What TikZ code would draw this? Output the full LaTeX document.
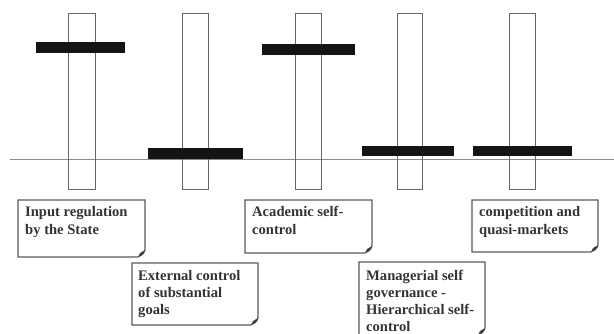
\documentclass[tikz,border=0pt]{standalone}
\usepackage{fontspec}
\setmainfont{Liberation Serif}
\begin{document}
\begin{tikzpicture}[x=1pt,y=-1pt,
  pillar/.style={draw=black!60, line width=1pt},
  bar/.style={fill=black!92},
  axisline/.style={draw=black!45, line width=0.9pt},
  notebox/.style={draw=black!65, line width=1.1pt, line join=miter},
  noteear/.style={fill=black!75},
  notetext/.style={anchor=base west, inner sep=0pt, align=left, text=black!80,
    font=\fontsize{14.6}{17.5}\selectfont\bfseries}]
\useasboundingbox (0,0) rectangle (614,334);
\begin{scope}
\clip (0,0) rectangle (614,334);
% axis line
\coordinate (axL) at (10,159);
\coordinate (axR) at (614,159);
\draw[axisline] (axL) -- (axR);
% pillars
\draw[pillar] (68,14) rectangle (95,190);
\draw[pillar] (182,14) rectangle (208,190);
\draw[pillar] (295,14) rectangle (321,190);
\draw[pillar] (397,14) rectangle (422,190);
\draw[pillar] (509,14) rectangle (535,190);
% bars
\fill[bar] (36,42) rectangle (125,53);
\fill[bar] (148,148) rectangle (243,159);
\fill[bar] (262,44) rectangle (355,55);
\fill[bar] (362,146) rectangle (454,156);
\fill[bar] (473,146) rectangle (572,156);
% note boxes
\newcommand\mynote[4]{%
  \draw[notebox] (#1,#2) -- (#3,#2) -- (#3,#4-7) .. controls (#3-1,#4-3) and (#3-4,#4-1) .. (#3-7,#4) -- (#1,#4) -- cycle;
  \fill[noteear] (#3,#4-7) .. controls (#3-1,#4-3) and (#3-4,#4-1) .. (#3-7,#4) -- (#3-5,#4-4) -- cycle;
}
\mynote{18}{200}{145}{257}
\mynote{132}{263}{258}{325}
\mynote{245}{200}{372}{253}
\mynote{359}{262}{485}{335}
\mynote{472}{200}{598}{252}
% text nodes: base anchor is the last line's baseline
\node[notetext] (t1) at (25,234.5) {Input regulation\\by the State};
\node[notetext] (t2) at (138,315) {External control\\of substantial\\goals};
\node[notetext] (t3) at (252,234.5) {Academic self-\\control};
\node[notetext, font=\fontsize{14.6}{17}\selectfont\bfseries] (t4) at (366,331) {Managerial self\\governance -\\Hierarchical self-\\control};
\node[notetext] (t5) at (479,234.5) {competition and\\quasi-markets};
\end{scope}
\end{tikzpicture}
\end{document}
